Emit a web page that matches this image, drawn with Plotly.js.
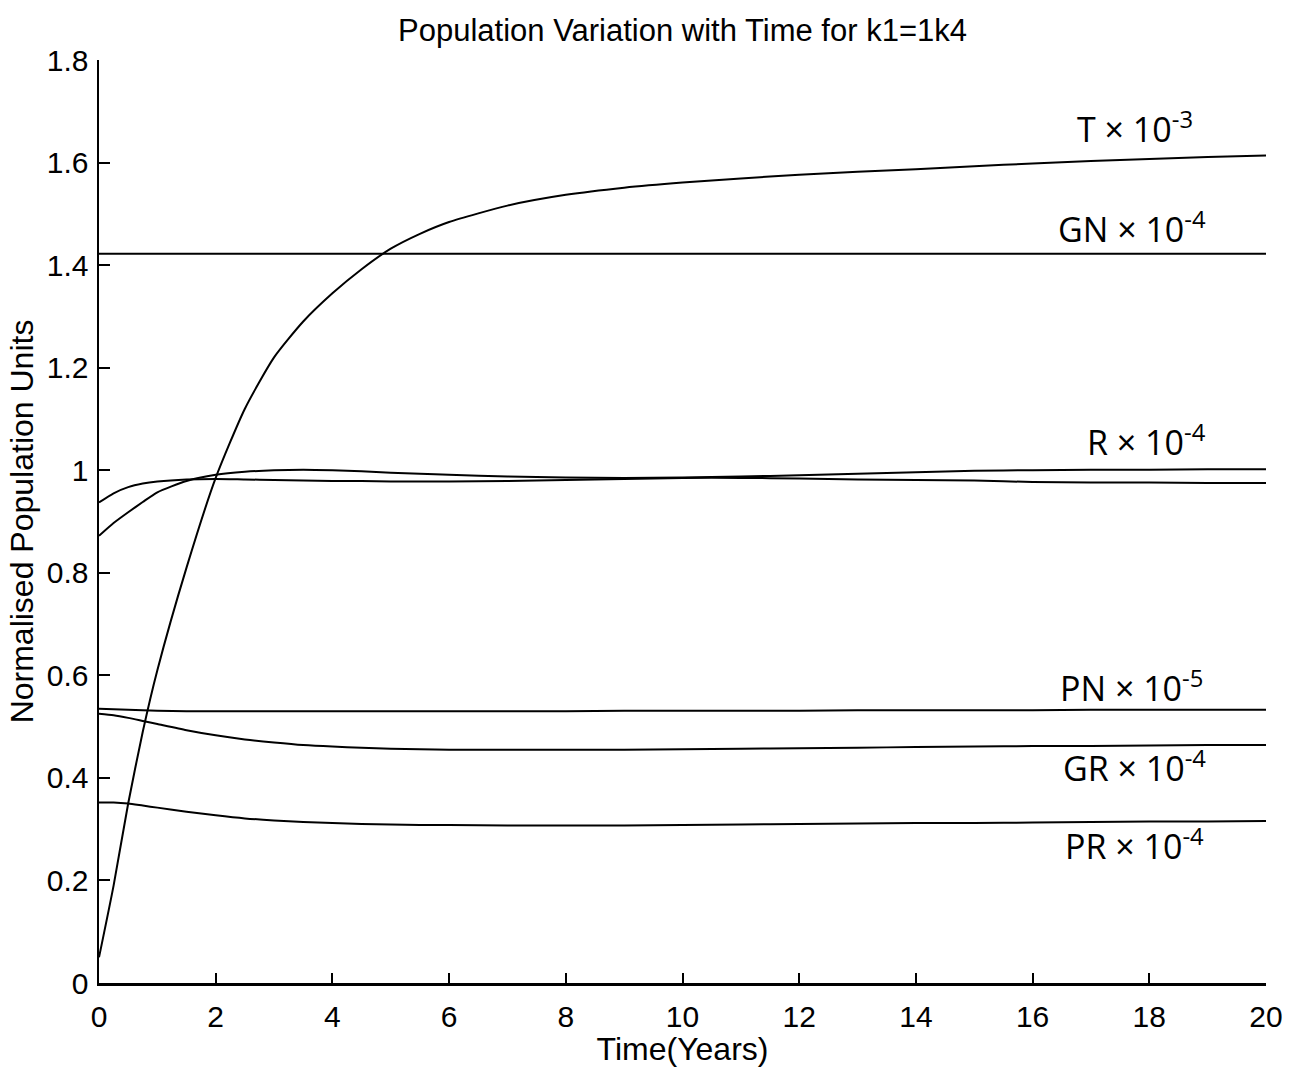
<!DOCTYPE html>
<html>
<head>
<meta charset="utf-8">
<script src="https://cdn.plot.ly/plotly-3.0.1.min.js"></script>
<style>html,body{margin:0;padding:0;background:#fff;}#chart{width:1296px;height:1067px;}</style>
</head>
<body>
<div id="chart"></div>
<script>
// Time (years)
const t  = [0, 0.25, 0.5, 0.75, 1, 1.5, 2, 2.5, 3, 3.5, 4, 4.5, 5, 5.5, 6, 7, 8, 9, 10, 11, 12, 13, 14, 15, 16, 17, 18, 19, 20];
// Normalised populations
const T  = [0.05, 0.19, 0.35, 0.49, 0.61, 0.81, 0.985, 1.12, 1.22, 1.29, 1.345, 1.392, 1.432, 1.461, 1.484, 1.516, 1.537, 1.551, 1.561, 1.569, 1.576, 1.582, 1.587, 1.593, 1.598, 1.603, 1.607, 1.611, 1.614];
const GN = [1.422, 1.422, 1.422, 1.422, 1.422, 1.422, 1.422, 1.422, 1.422, 1.422, 1.422, 1.422, 1.422, 1.422, 1.422, 1.422, 1.422, 1.422, 1.422, 1.422, 1.422, 1.422, 1.422, 1.422, 1.422, 1.422, 1.422, 1.422, 1.422];
const RA = [0.937, 0.955, 0.967, 0.974, 0.978, 0.982, 0.983, 0.982, 0.981, 0.980, 0.979, 0.979, 0.978, 0.978, 0.978, 0.979, 0.981, 0.983, 0.985, 0.985, 0.984, 0.982, 0.981, 0.980, 0.977, 0.976, 0.976, 0.975, 0.975];
const RB = [0.872, 0.897, 0.918, 0.938, 0.957, 0.979, 0.991, 0.997, 1.000, 1.001, 1.000, 0.998, 0.995, 0.993, 0.991, 0.988, 0.986, 0.985, 0.986, 0.988, 0.990, 0.993, 0.996, 0.999, 1.000, 1.001, 1.001, 1.002, 1.002];
const PN = [0.535, 0.534, 0.533, 0.532, 0.531, 0.530, 0.530, 0.530, 0.530, 0.530, 0.530, 0.530, 0.530, 0.530, 0.530, 0.530, 0.530, 0.531, 0.531, 0.531, 0.531, 0.532, 0.532, 0.532, 0.532, 0.533, 0.533, 0.533, 0.533];
const GR = [0.525, 0.522, 0.517, 0.511, 0.505, 0.493, 0.483, 0.475, 0.469, 0.464, 0.461, 0.459, 0.457, 0.456, 0.455, 0.455, 0.455, 0.455, 0.456, 0.457, 0.458, 0.459, 0.460, 0.461, 0.462, 0.462, 0.463, 0.464, 0.464];
const PR = [0.352, 0.352, 0.350, 0.346, 0.342, 0.334, 0.327, 0.321, 0.317, 0.314, 0.312, 0.310, 0.309, 0.308, 0.308, 0.307, 0.307, 0.307, 0.308, 0.309, 0.310, 0.311, 0.312, 0.312, 0.313, 0.314, 0.315, 0.315, 0.316];

const xTicks = [0, 2, 4, 6, 8, 10, 12, 14, 16, 18, 20];
const yTicks = [0, 0.2, 0.4, 0.6, 0.8, 1, 1.2, 1.4, 1.6, 1.8];

// Hand-written curve labels
const labelText = ['T × 10<sup>-3</sup>', 'GN × 10<sup>-4</sup>', 'R × 10<sup>-4</sup>', 'PN × 10<sup>-5</sup>', 'GR × 10<sup>-4</sup>', 'PR × 10<sup>-4</sup>'];
const labelX = [17.75, 17.7, 17.95, 17.7, 17.75, 17.75];
const labelY = [1.668, 1.474, 1.058, 0.578, 0.423, 0.271];

const series = [T, GN, RA, RB, PN, GR, PR];
const traces = series.map(ys => ({
  x: t, y: ys, type: 'scatter', mode: 'lines',
  line: {color: '#000', width: 2, shape: 'spline', smoothing: 0.6},
  hoverinfo: 'skip', showlegend: false
}));

const annotations = labelText.map((s, i) => ({
  x: labelX[i], y: labelY[i], xref: 'x', yref: 'y', text: s, showarrow: false,
  font: {family: 'Open Sans, sans-serif', size: 34, color: '#000'}
}));

const axisFont = {family: 'Liberation Sans, Arial, sans-serif', size: 30, color: '#000'};
const titleFont = {family: 'Liberation Sans, Arial, sans-serif', size: 32, color: '#000'};

const layout = {
  width: 1296, height: 1067,
  paper_bgcolor: '#fff', plot_bgcolor: '#fff',
  margin: {l: 99, r: 30, t: 60, b: 84},
  title: {text: 'Population Variation with Time for k1=1k4', x: 0.5, xref: 'paper', y: 0.972, yref: 'container', yanchor: 'middle',
          font: {family: 'Liberation Sans, Arial, sans-serif', size: 31, color: '#000'}},
  xaxis: {range: [0, 20], tickvals: xTicks, ticktext: xTicks.map(String), ticks: 'inside', ticklen: 10, tickwidth: 2, tickcolor: '#000',
          showline: true, linewidth: 2.5, linecolor: '#000', mirror: false, showgrid: false, zeroline: false,
          tickfont: axisFont, ticklabelstandoff: 5,
          title: {text: 'Time(Years)', font: titleFont, standoff: 2}},
  yaxis: {range: [0, 1.8], tickvals: yTicks, ticktext: yTicks.map(String), ticks: 'inside', ticklen: 11, tickwidth: 2, tickcolor: '#000',
          showline: true, linewidth: 2.5, linecolor: '#000', mirror: false, showgrid: false, zeroline: false,
          tickfont: axisFont, ticklabelstandoff: 2,
          title: {text: 'Normalised Population Units', font: titleFont, standoff: 4}},
  annotations: annotations
};

Plotly.newPlot('chart', traces, layout, {displayModeBar: false, staticPlot: true});
</script>
</body>
</html>
